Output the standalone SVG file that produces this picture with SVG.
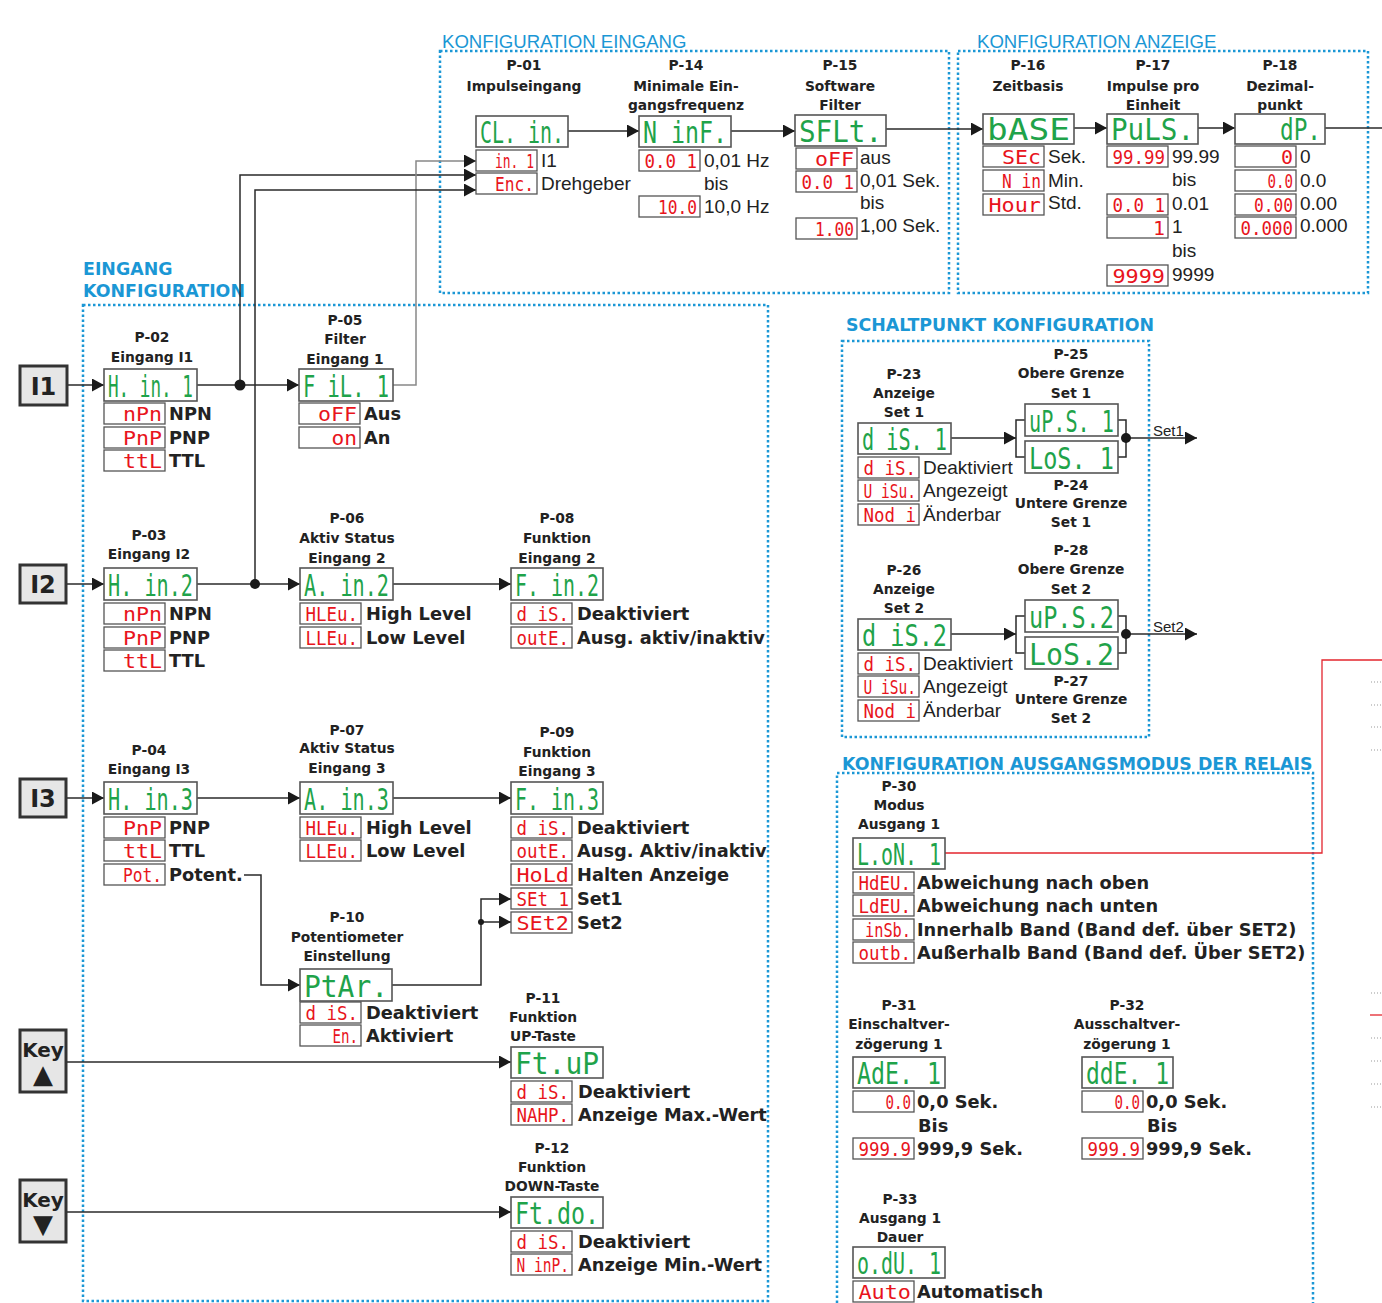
<svg xmlns="http://www.w3.org/2000/svg" width="1382" height="1303" viewBox="0 0 1382 1303">
<style>
.frame{fill:none;stroke:#1b97d5;stroke-width:2.5;stroke-dasharray:2.5 2.5}
.ttl{font-family:"DejaVu Sans",sans-serif;font-weight:bold;font-size:17.4px;fill:#1b97d5}
.ttn{font-family:"Liberation Sans",Arial,sans-serif;font-size:18.6px;fill:#1b97d5}
.h{font-family:"DejaVu Sans",sans-serif;font-weight:bold;font-size:13.8px;fill:#222;text-anchor:middle}
.ob{font-family:"DejaVu Sans",sans-serif;font-weight:bold;font-size:17.8px;fill:#222}
.on{font-family:"Liberation Sans",Arial,sans-serif;font-size:19px;fill:#222}
.sn{font-family:"Liberation Sans",Arial,sans-serif;font-size:15px;fill:#222}
.gd{fill:#fff;stroke:#555;stroke-width:1.6}
.rd{fill:#fff;stroke:#555;stroke-width:1.3}
.gt{font-family:"DejaVu Sans Mono",monospace;font-size:31px;fill:#1fa34a}
.rt{font-family:"DejaVu Sans Mono",monospace;font-size:20px;fill:#e8141c}
.ib{fill:#e6e6e6;stroke:#333;stroke-width:3}
.it{font-family:"DejaVu Sans",sans-serif;font-weight:bold;font-size:24px;fill:#222;text-anchor:middle}
.kt{font-family:"DejaVu Sans",sans-serif;font-weight:bold;font-size:20px;fill:#222;text-anchor:middle}
.tri{font-family:"DejaVu Sans",sans-serif;font-size:26px;fill:#222;text-anchor:middle}
.c{fill:none;stroke:#2a2a2a;stroke-width:1.5}
.cg{fill:none;stroke:#888;stroke-width:1.5}
.cr{fill:none;stroke:#e3262e;stroke-width:1.3}
.dt{fill:none;stroke:#999;stroke-width:1;stroke-dasharray:1 2}
</style>
<defs>
<marker id="ah" markerUnits="userSpaceOnUse" markerWidth="12" markerHeight="13" refX="12" refY="6.5" orient="auto"><path d="M0,0 L12,6.5 L0,13 z" fill="#1a1a1a"/></marker>
</defs>

<g id="frames">
<rect class="frame" x="440" y="51" width="509" height="242"/>
<rect class="frame" x="958" y="51" width="410" height="242"/>
<rect class="frame" x="83" y="305" width="685" height="996"/>
<rect class="frame" x="842" y="341" width="307" height="396"/>
<path class="frame" d="M837,1303 V773 H1313 V1303"/>
<text class="ttn" x="442" y="48">KONFIGURATION EINGANG</text>
<text class="ttn" x="977" y="48">KONFIGURATION ANZEIGE</text>
<text class="ttl" x="83" y="275">EINGANG</text>
<text class="ttl" x="83" y="297">KONFIGURATION</text>
<text class="ttl" x="846" y="331">SCHALTPUNKT KONFIGURATION</text>
<text class="ttl" x="842" y="770">KONFIGURATION AUSGANGSMODUS DER RELAIS</text>
</g>

<g id="connectors">
<path class="c" d="M568,131 H639" marker-end="url(#ah)"/>
<path class="c" d="M731,131 H795" marker-end="url(#ah)"/>
<path class="c" d="M886,129 H983" marker-end="url(#ah)"/>
<path class="c" d="M1074,128 H1107" marker-end="url(#ah)"/>
<path class="c" d="M1198,128 H1235" marker-end="url(#ah)"/>
<path class="c" d="M1325,128 H1382"/>
<path class="c" d="M67,385 H104" marker-end="url(#ah)"/>
<path class="c" d="M197,385 H299" marker-end="url(#ah)"/>
<path class="c" d="M240,385 V175 H476" marker-end="url(#ah)"/>
<path class="cg" d="M393,385 H416 V161 H476" marker-end="url(#ah)"/>
<circle cx="240" cy="385" r="5.5" fill="#1a1a1a"/>
<path class="c" d="M66,584 H104" marker-end="url(#ah)"/>
<path class="c" d="M197,584 H300" marker-end="url(#ah)"/>
<path class="c" d="M255,584 V190 H476" marker-end="url(#ah)"/>
<circle cx="255" cy="584" r="5" fill="#1a1a1a"/>
<path class="c" d="M393,584 H511" marker-end="url(#ah)"/>
<path class="c" d="M66,798 H104" marker-end="url(#ah)"/>
<path class="c" d="M197,798 H300" marker-end="url(#ah)"/>
<path class="c" d="M393,798 H511" marker-end="url(#ah)"/>
<path class="c" d="M244,875 H261 V985 H300" marker-end="url(#ah)"/>
<path class="c" d="M392,985 H481 V899 H511" marker-end="url(#ah)"/>
<path class="c" d="M481,922 H511" marker-end="url(#ah)"/>
<circle cx="481" cy="922" r="3" fill="#1a1a1a"/>
<path class="c" d="M66,1062 H511" marker-end="url(#ah)"/>
<path class="c" d="M66,1212 H511" marker-end="url(#ah)"/>
<path class="c" d="M951,438 H1016" marker-end="url(#ah)"/>
<path class="c" d="M1025,420 H1016 V457 H1025"/>
<path class="c" d="M1118,420 H1126 V457 H1118"/>
<path class="c" d="M1126,438 H1197" marker-end="url(#ah)"/>
<circle cx="1126" cy="438" r="5" fill="#1a1a1a"/>
<path class="c" d="M951,634 H1016" marker-end="url(#ah)"/>
<path class="c" d="M1025,616 H1016 V653 H1025"/>
<path class="c" d="M1118,616 H1126 V653 H1118"/>
<path class="c" d="M1126,634 H1197" marker-end="url(#ah)"/>
<circle cx="1126" cy="634" r="5" fill="#1a1a1a"/>
<text class="sn" x="1153" y="436">Set1</text>
<text class="sn" x="1153" y="632">Set2</text>
<path class="cr" d="M945,853 H1322 V660 H1382"/>
<path class="cr" d="M1370,1015 H1382"/>
<path class="dt" d="M1371,682 H1382 M1371,705 H1382 M1371,727 H1382 M1371,750 H1382 M1371,993 H1382 M1371,1038 H1382 M1371,1061 H1382 M1371,1084 H1382 M1371,1107 H1382"/>
</g>

<g id="P-01">
<text class="h" x="524" y="70">P-01</text>
<text class="h" x="524" y="91">Impulseingang</text>
<rect class="gd" x="476" y="116" width="92" height="31"/>
<text class="gt" x="480" y="143" textLength="84" lengthAdjust="spacingAndGlyphs">CL. in.</text>
<rect class="rd" x="476" y="150" width="61" height="21"/>
<text class="rt" x="495" y="168" textLength="39" lengthAdjust="spacingAndGlyphs">in. 1</text>
<rect class="rd" x="476" y="173" width="61" height="21"/>
<text class="rt" x="495" y="191" textLength="39" lengthAdjust="spacingAndGlyphs">Enc.</text>
<text class="on" x="541" y="167">I1</text>
<text class="on" x="541" y="190">Drehgeber</text>
</g>

<g id="P-14">
<text class="h" x="686" y="70">P-14</text>
<text class="h" x="686" y="91">Minimale Ein-</text>
<text class="h" x="686" y="110">gangsfrequenz</text>
<rect class="gd" x="639" y="116" width="92" height="31"/>
<text class="gt" x="643" y="143" textLength="84" lengthAdjust="spacingAndGlyphs">N inF.</text>
<rect class="rd" x="639" y="150" width="61" height="21"/>
<text class="rt" x="644.5" y="168" textLength="52.5" lengthAdjust="spacingAndGlyphs">0.0 1</text>
<text class="on" x="704" y="167">0,01 Hz</text>
<text class="on" x="704" y="190">bis</text>
<rect class="rd" x="639" y="196" width="61" height="21"/>
<text class="rt" x="658" y="214" textLength="39" lengthAdjust="spacingAndGlyphs">10.0</text>
<text class="on" x="704" y="213">10,0 Hz</text>
</g>

<g id="P-15">
<text class="h" x="840" y="70">P-15</text>
<text class="h" x="840" y="91">Software</text>
<text class="h" x="840" y="110">Filter</text>
<rect class="gd" x="795" y="115" width="91" height="31"/>
<text class="gt" x="799" y="142" textLength="83" lengthAdjust="spacingAndGlyphs">SFLt.</text>
<rect class="rd" x="796" y="148" width="61" height="21"/>
<text class="rt" x="815" y="166" textLength="39" lengthAdjust="spacingAndGlyphs">oFF</text>
<text class="on" x="860" y="164">aus</text>
<rect class="rd" x="796" y="171" width="61" height="21"/>
<text class="rt" x="801.5" y="189" textLength="52.5" lengthAdjust="spacingAndGlyphs">0.0 1</text>
<text class="on" x="860" y="187">0,01 Sek.</text>
<text class="on" x="860" y="209">bis</text>
<rect class="rd" x="796" y="218" width="61" height="21"/>
<text class="rt" x="815" y="236" textLength="39" lengthAdjust="spacingAndGlyphs">1.00</text>
<text class="on" x="860" y="232">1,00 Sek.</text>
</g>

<g id="P-16">
<text class="h" x="1028" y="70">P-16</text>
<text class="h" x="1028" y="91">Zeitbasis</text>
<rect class="gd" x="983" y="114" width="91" height="30"/>
<text class="gt" x="987" y="140" textLength="83" lengthAdjust="spacingAndGlyphs">bASE</text>
<rect class="rd" x="983" y="146" width="61" height="21"/>
<text class="rt" x="1002" y="164" textLength="39" lengthAdjust="spacingAndGlyphs">SEc</text>
<text class="on" x="1048" y="163">Sek.</text>
<rect class="rd" x="983" y="170" width="61" height="21"/>
<text class="rt" x="1002" y="188" textLength="39" lengthAdjust="spacingAndGlyphs">N in</text>
<text class="on" x="1048" y="187">Min.</text>
<rect class="rd" x="983" y="194" width="61" height="21"/>
<text class="rt" x="988.5" y="212" textLength="52.5" lengthAdjust="spacingAndGlyphs">Hour</text>
<text class="on" x="1048" y="209">Std.</text>
</g>

<g id="P-17">
<text class="h" x="1153" y="70">P-17</text>
<text class="h" x="1153" y="91">Impulse pro</text>
<text class="h" x="1153" y="110">Einheit</text>
<rect class="gd" x="1107" y="114" width="91" height="30"/>
<text class="gt" x="1111" y="140" textLength="83" lengthAdjust="spacingAndGlyphs">PuLS.</text>
<rect class="rd" x="1107" y="146" width="61" height="21"/>
<text class="rt" x="1112.5" y="164" textLength="52.5" lengthAdjust="spacingAndGlyphs">99.99</text>
<text class="on" x="1172" y="163">99.99</text>
<text class="on" x="1172" y="186">bis</text>
<rect class="rd" x="1107" y="194" width="61" height="21"/>
<text class="rt" x="1112.5" y="212" textLength="52.5" lengthAdjust="spacingAndGlyphs">0.0 1</text>
<text class="on" x="1172" y="210">0.01</text>
<rect class="rd" x="1107" y="217" width="61" height="21"/>
<text class="rt" x="1153" y="235" textLength="12" lengthAdjust="spacingAndGlyphs">1</text>
<text class="on" x="1172" y="233">1</text>
<text class="on" x="1172" y="257">bis</text>
<rect class="rd" x="1107" y="265" width="61" height="21"/>
<text class="rt" x="1112.5" y="283" textLength="52.5" lengthAdjust="spacingAndGlyphs">9999</text>
<text class="on" x="1172" y="281">9999</text>
</g>

<g id="P-18">
<text class="h" x="1280" y="70">P-18</text>
<text class="h" x="1280" y="91">Dezimal-</text>
<text class="h" x="1280" y="110">punkt</text>
<rect class="gd" x="1235" y="114" width="90" height="30"/>
<text class="gt" x="1280" y="140" textLength="41" lengthAdjust="spacingAndGlyphs">dP.</text>
<rect class="rd" x="1235" y="146" width="61" height="21"/>
<text class="rt" x="1281" y="164" textLength="12" lengthAdjust="spacingAndGlyphs">0</text>
<text class="on" x="1300" y="163">0</text>
<rect class="rd" x="1235" y="170" width="61" height="21"/>
<text class="rt" x="1267.5" y="188" textLength="25.5" lengthAdjust="spacingAndGlyphs">0.0</text>
<text class="on" x="1300" y="187">0.0</text>
<rect class="rd" x="1235" y="194" width="61" height="21"/>
<text class="rt" x="1254" y="212" textLength="39" lengthAdjust="spacingAndGlyphs">0.00</text>
<text class="on" x="1300" y="210">0.00</text>
<rect class="rd" x="1235" y="217" width="61" height="21"/>
<text class="rt" x="1240.5" y="235" textLength="52.5" lengthAdjust="spacingAndGlyphs">0.000</text>
<text class="on" x="1300" y="232">0.000</text>
</g>

<g id="I1"><rect class="ib" x="20" y="366" width="47" height="39"/><text class="it" x="43.5" y="395">I1</text></g>
<g id="I2"><rect class="ib" x="20" y="565" width="46" height="38"/><text class="it" x="43" y="593">I2</text></g>
<g id="I3"><rect class="ib" x="20" y="779" width="46" height="38"/><text class="it" x="43" y="807">I3</text></g>
<g id="KeyUp"><rect class="ib" x="20" y="1030" width="46" height="62"/><text class="kt" x="43" y="1057">Key</text><text class="tri" x="43" y="1083">▲</text></g>
<g id="KeyDown"><rect class="ib" x="20" y="1180" width="46" height="62"/><text class="kt" x="43" y="1207">Key</text><text class="tri" x="43" y="1233">▼</text></g>

<g id="P-02">
<text class="h" x="152" y="342">P-02</text>
<text class="h" x="152" y="362">Eingang I1</text>
<rect class="gd" x="104" y="369" width="93" height="32"/>
<text class="gt" x="108" y="397" textLength="85" lengthAdjust="spacingAndGlyphs">H. in. 1</text>
<rect class="rd" x="104" y="403" width="61" height="21"/>
<text class="rt" x="123" y="421" textLength="39" lengthAdjust="spacingAndGlyphs">nPn</text>
<text class="ob" x="169" y="420">NPN</text>
<rect class="rd" x="104" y="427" width="61" height="21"/>
<text class="rt" x="123" y="445" textLength="39" lengthAdjust="spacingAndGlyphs">PnP</text>
<text class="ob" x="169" y="444">PNP</text>
<rect class="rd" x="104" y="450" width="61" height="21"/>
<text class="rt" x="123" y="468" textLength="39" lengthAdjust="spacingAndGlyphs">ttL</text>
<text class="ob" x="169" y="467">TTL</text>
</g>

<g id="P-05">
<text class="h" x="345" y="325">P-05</text>
<text class="h" x="345" y="344">Filter</text>
<text class="h" x="345" y="364">Eingang 1</text>
<rect class="gd" x="299" y="369" width="94" height="32"/>
<text class="gt" x="303" y="397" textLength="86" lengthAdjust="spacingAndGlyphs">F iL. 1</text>
<rect class="rd" x="299" y="403" width="61" height="21"/>
<text class="rt" x="318" y="421" textLength="39" lengthAdjust="spacingAndGlyphs">oFF</text>
<text class="ob" x="364" y="420">Aus</text>
<rect class="rd" x="299" y="427" width="61" height="21"/>
<text class="rt" x="331.5" y="445" textLength="25.5" lengthAdjust="spacingAndGlyphs">on</text>
<text class="ob" x="364" y="444">An</text>
</g>

<g id="P-03">
<text class="h" x="149" y="540">P-03</text>
<text class="h" x="149" y="559">Eingang I2</text>
<rect class="gd" x="104" y="568" width="93" height="32"/>
<text class="gt" x="108" y="596" textLength="85" lengthAdjust="spacingAndGlyphs">H. in.2</text>
<rect class="rd" x="104" y="603" width="61" height="21"/>
<text class="rt" x="123" y="621" textLength="39" lengthAdjust="spacingAndGlyphs">nPn</text>
<text class="ob" x="169" y="620">NPN</text>
<rect class="rd" x="104" y="627" width="61" height="21"/>
<text class="rt" x="123" y="645" textLength="39" lengthAdjust="spacingAndGlyphs">PnP</text>
<text class="ob" x="169" y="644">PNP</text>
<rect class="rd" x="104" y="650" width="61" height="21"/>
<text class="rt" x="123" y="668" textLength="39" lengthAdjust="spacingAndGlyphs">ttL</text>
<text class="ob" x="169" y="667">TTL</text>
</g>

<g id="P-06">
<text class="h" x="347" y="523">P-06</text>
<text class="h" x="347" y="543">Aktiv Status</text>
<text class="h" x="347" y="563">Eingang 2</text>
<rect class="gd" x="300" y="568" width="93" height="32"/>
<text class="gt" x="304" y="596" textLength="85" lengthAdjust="spacingAndGlyphs">A. in.2</text>
<rect class="rd" x="300" y="603" width="61" height="21"/>
<text class="rt" x="305.5" y="621" textLength="52.5" lengthAdjust="spacingAndGlyphs">HLEu.</text>
<text class="ob" x="366" y="620">High Level</text>
<rect class="rd" x="300" y="627" width="61" height="21"/>
<text class="rt" x="305.5" y="645" textLength="52.5" lengthAdjust="spacingAndGlyphs">LLEu.</text>
<text class="ob" x="366" y="644">Low Level</text>
</g>

<g id="P-08">
<text class="h" x="557" y="523">P-08</text>
<text class="h" x="557" y="543">Funktion</text>
<text class="h" x="557" y="563">Eingang 2</text>
<rect class="gd" x="511" y="568" width="92" height="32"/>
<text class="gt" x="515" y="596" textLength="84" lengthAdjust="spacingAndGlyphs">F. in.2</text>
<rect class="rd" x="511" y="603" width="61" height="21"/>
<text class="rt" x="516.5" y="621" textLength="52.5" lengthAdjust="spacingAndGlyphs">d iS.</text>
<text class="ob" x="577" y="620">Deaktiviert</text>
<rect class="rd" x="511" y="627" width="61" height="21"/>
<text class="rt" x="516.5" y="645" textLength="52.5" lengthAdjust="spacingAndGlyphs">outE.</text>
<text class="ob" x="577" y="644">Ausg. aktiv/inaktiv</text>
</g>

<g id="P-04">
<text class="h" x="149" y="755">P-04</text>
<text class="h" x="149" y="774">Eingang I3</text>
<rect class="gd" x="104" y="782" width="93" height="32"/>
<text class="gt" x="108" y="810" textLength="85" lengthAdjust="spacingAndGlyphs">H. in.3</text>
<rect class="rd" x="104" y="817" width="61" height="21"/>
<text class="rt" x="123" y="835" textLength="39" lengthAdjust="spacingAndGlyphs">PnP</text>
<text class="ob" x="169" y="834">PNP</text>
<rect class="rd" x="104" y="840" width="61" height="21"/>
<text class="rt" x="123" y="858" textLength="39" lengthAdjust="spacingAndGlyphs">ttL</text>
<text class="ob" x="169" y="857">TTL</text>
<rect class="rd" x="104" y="864" width="61" height="21"/>
<text class="rt" x="123" y="882" textLength="39" lengthAdjust="spacingAndGlyphs">Pot.</text>
<text class="ob" x="169" y="881">Potent.</text>
</g>

<g id="P-07">
<text class="h" x="347" y="735">P-07</text>
<text class="h" x="347" y="753">Aktiv Status</text>
<text class="h" x="347" y="773">Eingang 3</text>
<rect class="gd" x="300" y="782" width="93" height="32"/>
<text class="gt" x="304" y="810" textLength="85" lengthAdjust="spacingAndGlyphs">A. in.3</text>
<rect class="rd" x="300" y="817" width="61" height="21"/>
<text class="rt" x="305.5" y="835" textLength="52.5" lengthAdjust="spacingAndGlyphs">HLEu.</text>
<text class="ob" x="366" y="834">High Level</text>
<rect class="rd" x="300" y="840" width="61" height="21"/>
<text class="rt" x="305.5" y="858" textLength="52.5" lengthAdjust="spacingAndGlyphs">LLEu.</text>
<text class="ob" x="366" y="857">Low Level</text>
</g>

<g id="P-09">
<text class="h" x="557" y="737">P-09</text>
<text class="h" x="557" y="757">Funktion</text>
<text class="h" x="557" y="776">Eingang 3</text>
<rect class="gd" x="511" y="782" width="92" height="32"/>
<text class="gt" x="515" y="810" textLength="84" lengthAdjust="spacingAndGlyphs">F. in.3</text>
<rect class="rd" x="511" y="817" width="61" height="21"/>
<text class="rt" x="516.5" y="835" textLength="52.5" lengthAdjust="spacingAndGlyphs">d iS.</text>
<text class="ob" x="577" y="834">Deaktiviert</text>
<rect class="rd" x="511" y="840" width="61" height="21"/>
<text class="rt" x="516.5" y="858" textLength="52.5" lengthAdjust="spacingAndGlyphs">outE.</text>
<text class="ob" x="577" y="857">Ausg. Aktiv/inaktiv</text>
<rect class="rd" x="511" y="864" width="61" height="21"/>
<text class="rt" x="516.5" y="882" textLength="52.5" lengthAdjust="spacingAndGlyphs">HoLd</text>
<text class="ob" x="577" y="881">Halten Anzeige</text>
<rect class="rd" x="511" y="888" width="61" height="21"/>
<text class="rt" x="516.5" y="906" textLength="52.5" lengthAdjust="spacingAndGlyphs">SEt 1</text>
<text class="ob" x="577" y="905">Set1</text>
<rect class="rd" x="511" y="912" width="61" height="21"/>
<text class="rt" x="516.5" y="930" textLength="52.5" lengthAdjust="spacingAndGlyphs">SEt2</text>
<text class="ob" x="577" y="929">Set2</text>
</g>

<g id="P-10">
<text class="h" x="347" y="922">P-10</text>
<text class="h" x="347" y="942">Potentiometer</text>
<text class="h" x="347" y="961">Einstellung</text>
<rect class="gd" x="300" y="969" width="92" height="32"/>
<text class="gt" x="304" y="997" textLength="84" lengthAdjust="spacingAndGlyphs">PtAr.</text>
<rect class="rd" x="300" y="1002" width="61" height="21"/>
<text class="rt" x="305.5" y="1020" textLength="52.5" lengthAdjust="spacingAndGlyphs">d iS.</text>
<text class="ob" x="366" y="1019">Deaktiviert</text>
<rect class="rd" x="300" y="1025" width="61" height="21"/>
<text class="rt" x="332.5" y="1043" textLength="25.5" lengthAdjust="spacingAndGlyphs">En.</text>
<text class="ob" x="366" y="1042">Aktiviert</text>
</g>

<g id="P-11">
<text class="h" x="543" y="1003">P-11</text>
<text class="h" x="543" y="1022">Funktion</text>
<text class="h" x="543" y="1041">UP-Taste</text>
<rect class="gd" x="511" y="1047" width="92" height="31"/>
<text class="gt" x="515" y="1074" textLength="84" lengthAdjust="spacingAndGlyphs">Ft.uP</text>
<rect class="rd" x="511" y="1081" width="61" height="21"/>
<text class="rt" x="516.5" y="1099" textLength="52.5" lengthAdjust="spacingAndGlyphs">d iS.</text>
<text class="ob" x="578" y="1098">Deaktiviert</text>
<rect class="rd" x="511" y="1104" width="61" height="21"/>
<text class="rt" x="516.5" y="1122" textLength="52.5" lengthAdjust="spacingAndGlyphs">NAHP.</text>
<text class="ob" x="578" y="1121">Anzeige Max.-Wert</text>
</g>

<g id="P-12">
<text class="h" x="552" y="1153">P-12</text>
<text class="h" x="552" y="1172">Funktion</text>
<text class="h" x="552" y="1191">DOWN-Taste</text>
<rect class="gd" x="511" y="1197" width="92" height="31"/>
<text class="gt" x="515" y="1224" textLength="84" lengthAdjust="spacingAndGlyphs">Ft.do.</text>
<rect class="rd" x="511" y="1231" width="61" height="21"/>
<text class="rt" x="516.5" y="1249" textLength="52.5" lengthAdjust="spacingAndGlyphs">d iS.</text>
<text class="ob" x="578" y="1248">Deaktiviert</text>
<rect class="rd" x="511" y="1254" width="61" height="21"/>
<text class="rt" x="516.5" y="1272" textLength="52.5" lengthAdjust="spacingAndGlyphs">N inP.</text>
<text class="ob" x="578" y="1271">Anzeige Min.-Wert</text>
</g>

<g id="P-23">
<text class="h" x="904" y="379">P-23</text>
<text class="h" x="904" y="398">Anzeige</text>
<text class="h" x="904" y="417">Set 1</text>
<rect class="gd" x="858" y="423" width="93" height="31"/>
<text class="gt" x="862" y="450" textLength="85" lengthAdjust="spacingAndGlyphs">d iS. 1</text>
<rect class="rd" x="858" y="457" width="61" height="21"/>
<text class="rt" x="863.5" y="475" textLength="52.5" lengthAdjust="spacingAndGlyphs">d iS.</text>
<text class="on" x="923" y="474">Deaktiviert</text>
<rect class="rd" x="858" y="480" width="61" height="21"/>
<text class="rt" x="863.5" y="498" textLength="52.5" lengthAdjust="spacingAndGlyphs">U iSu.</text>
<text class="on" x="923" y="497">Angezeigt</text>
<rect class="rd" x="858" y="504" width="61" height="21"/>
<text class="rt" x="863.5" y="522" textLength="52.5" lengthAdjust="spacingAndGlyphs">Nod i</text>
<text class="on" x="923" y="521">Änderbar</text>
</g>

<g id="P-25">
<text class="h" x="1071" y="359">P-25</text>
<text class="h" x="1071" y="378">Obere Grenze</text>
<text class="h" x="1071" y="398">Set 1</text>
<rect class="gd" x="1025" y="404" width="93" height="32"/>
<text class="gt" x="1029" y="432" textLength="85" lengthAdjust="spacingAndGlyphs">uP.S. 1</text>
</g>

<g id="P-24">
<rect class="gd" x="1025" y="441" width="93" height="32"/>
<text class="gt" x="1029" y="469" textLength="85" lengthAdjust="spacingAndGlyphs">LoS. 1</text>
<text class="h" x="1071" y="490">P-24</text>
<text class="h" x="1071" y="508">Untere Grenze</text>
<text class="h" x="1071" y="527">Set 1</text>
</g>

<g id="P-26">
<text class="h" x="904" y="575">P-26</text>
<text class="h" x="904" y="594">Anzeige</text>
<text class="h" x="904" y="613">Set 2</text>
<rect class="gd" x="858" y="619" width="93" height="31"/>
<text class="gt" x="862" y="646" textLength="85" lengthAdjust="spacingAndGlyphs">d iS.2</text>
<rect class="rd" x="858" y="653" width="61" height="21"/>
<text class="rt" x="863.5" y="671" textLength="52.5" lengthAdjust="spacingAndGlyphs">d iS.</text>
<text class="on" x="923" y="670">Deaktiviert</text>
<rect class="rd" x="858" y="676" width="61" height="21"/>
<text class="rt" x="863.5" y="694" textLength="52.5" lengthAdjust="spacingAndGlyphs">U iSu.</text>
<text class="on" x="923" y="693">Angezeigt</text>
<rect class="rd" x="858" y="700" width="61" height="21"/>
<text class="rt" x="863.5" y="718" textLength="52.5" lengthAdjust="spacingAndGlyphs">Nod i</text>
<text class="on" x="923" y="717">Änderbar</text>
</g>

<g id="P-28">
<text class="h" x="1071" y="555">P-28</text>
<text class="h" x="1071" y="574">Obere Grenze</text>
<text class="h" x="1071" y="594">Set 2</text>
<rect class="gd" x="1025" y="600" width="93" height="32"/>
<text class="gt" x="1029" y="628" textLength="85" lengthAdjust="spacingAndGlyphs">uP.S.2</text>
</g>

<g id="P-27">
<rect class="gd" x="1025" y="637" width="93" height="32"/>
<text class="gt" x="1029" y="665" textLength="85" lengthAdjust="spacingAndGlyphs">LoS.2</text>
<text class="h" x="1071" y="686">P-27</text>
<text class="h" x="1071" y="704">Untere Grenze</text>
<text class="h" x="1071" y="723">Set 2</text>
</g>

<g id="P-30">
<text class="h" x="899" y="791">P-30</text>
<text class="h" x="899" y="810">Modus</text>
<text class="h" x="899" y="829">Ausgang 1</text>
<rect class="gd" x="853" y="838" width="92" height="31"/>
<text class="gt" x="857" y="865" textLength="84" lengthAdjust="spacingAndGlyphs">L.oN. 1</text>
<rect class="rd" x="853" y="872" width="61" height="21"/>
<text class="rt" x="858.5" y="890" textLength="52.5" lengthAdjust="spacingAndGlyphs">HdEU.</text>
<text class="ob" x="917" y="889">Abweichung nach oben</text>
<rect class="rd" x="853" y="895" width="61" height="21"/>
<text class="rt" x="858.5" y="913" textLength="52.5" lengthAdjust="spacingAndGlyphs">LdEU.</text>
<text class="ob" x="917" y="912">Abweichung nach unten</text>
<rect class="rd" x="853" y="919" width="61" height="21"/>
<text class="rt" x="865" y="937" textLength="46" lengthAdjust="spacingAndGlyphs">inSb.</text>
<text class="ob" x="917" y="936">Innerhalb Band (Band def. über SET2)</text>
<rect class="rd" x="853" y="942" width="61" height="21"/>
<text class="rt" x="858.5" y="960" textLength="52.5" lengthAdjust="spacingAndGlyphs">outb.</text>
<text class="ob" x="917" y="959">Außerhalb Band (Band def. Über SET2)</text>
</g>

<g id="P-31">
<text class="h" x="899" y="1010">P-31</text>
<text class="h" x="899" y="1029">Einschaltver-</text>
<text class="h" x="899" y="1049">zögerung 1</text>
<rect class="gd" x="853" y="1057" width="92" height="31"/>
<text class="gt" x="857" y="1084" textLength="84" lengthAdjust="spacingAndGlyphs">AdE. 1</text>
<rect class="rd" x="853" y="1091" width="61" height="21"/>
<text class="rt" x="885.5" y="1109" textLength="25.5" lengthAdjust="spacingAndGlyphs">0.0</text>
<text class="ob" x="917" y="1108">0,0 Sek.</text>
<text class="ob" x="918" y="1132">Bis</text>
<rect class="rd" x="853" y="1138" width="61" height="21"/>
<text class="rt" x="858.5" y="1156" textLength="52.5" lengthAdjust="spacingAndGlyphs">999.9</text>
<text class="ob" x="917" y="1155">999,9 Sek.</text>
</g>

<g id="P-32">
<text class="h" x="1127" y="1010">P-32</text>
<text class="h" x="1127" y="1029">Ausschaltver-</text>
<text class="h" x="1127" y="1049">zögerung 1</text>
<rect class="gd" x="1082" y="1057" width="91" height="31"/>
<text class="gt" x="1086" y="1084" textLength="83" lengthAdjust="spacingAndGlyphs">ddE. 1</text>
<rect class="rd" x="1082" y="1091" width="61" height="21"/>
<text class="rt" x="1114.5" y="1109" textLength="25.5" lengthAdjust="spacingAndGlyphs">0.0</text>
<text class="ob" x="1146" y="1108">0,0 Sek.</text>
<text class="ob" x="1147" y="1132">Bis</text>
<rect class="rd" x="1082" y="1138" width="61" height="21"/>
<text class="rt" x="1087.5" y="1156" textLength="52.5" lengthAdjust="spacingAndGlyphs">999.9</text>
<text class="ob" x="1146" y="1155">999,9 Sek.</text>
</g>

<g id="P-33">
<text class="h" x="900" y="1204">P-33</text>
<text class="h" x="900" y="1223">Ausgang 1</text>
<text class="h" x="900" y="1242">Dauer</text>
<rect class="gd" x="853" y="1247" width="92" height="31"/>
<text class="gt" x="857" y="1274" textLength="84" lengthAdjust="spacingAndGlyphs">o.dU. 1</text>
<rect class="rd" x="853" y="1281" width="61" height="21"/>
<text class="rt" x="858.5" y="1299" textLength="52.5" lengthAdjust="spacingAndGlyphs">Auto</text>
<text class="ob" x="917" y="1298">Automatisch</text>
</g>
</svg>
